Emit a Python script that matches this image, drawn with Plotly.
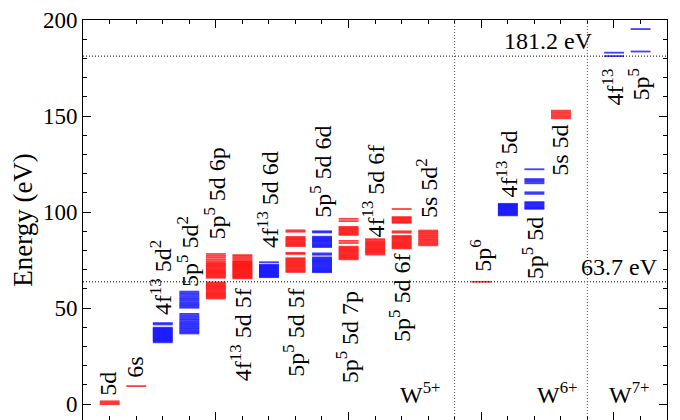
import plotly.graph_objects as go

# ---------------- data (energies in eV) ----------------
CONFIG_LABELS = [
    "5d", "6s", "4f<sup>13</sup> 5d<sup>2</sup>", "5p<sup>5</sup> 5d<sup>2</sup>",
    "5p<sup>5</sup> 5d 6p", "4f<sup>13</sup> 5d 5f", "4f<sup>13</sup> 5d 6d",
    "5p<sup>5</sup> 5d 5f", "5p<sup>5</sup> 5d 6d", "5p<sup>5</sup> 5d 7p",
    "4f<sup>13</sup> 5d 6f", "5p<sup>5</sup> 5d 6f", "5s 5d<sup>2</sup>",
    "5p<sup>6</sup>", "4f<sup>13</sup> 5d", "5p<sup>5</sup> 5d", "5s 5d",
    "4f<sup>13</sup>", "5p<sup>5</sup>",
]
COLUMN_X = [1, 2, 3, 4, 5, 6, 7, 8, 9, 10, 11, 12, 13, 15, 16, 17, 18, 20, 21]
PARITY = ["even", "even", "odd", "odd", "even", "even", "odd", "even", "odd", "even",
          "even", "even", "even", "even", "odd", "odd", "even", "odd", "odd"]

W5_5d = [0.0, 0.7, 1.5]
W5_6s = [9.4]
W5_4f13_5d2 = [42.2, 41.5, 39.8, 39.3, 38.8, 38.3, 37.8, 37.3, 36.8, 36.3, 35.8, 35.3,
               34.8, 34.3, 33.8, 33.3, 32.8, 32.2]
W5_5p5_5d2 = [58.6, 57.8, 57.0, 56.2, 55.3, 54.6, 53.8, 53.0, 52.3, 51.6, 50.9, 50.2,
              47.0, 46.2, 45.4, 44.6, 43.9, 43.1, 42.4, 41.7, 41.0, 40.3, 39.6, 38.9,
              38.2, 37.5, 36.8]
W5_5p5_5d_6p = [78.2, 77.2, 76.3, 75.3, 74.4, 73.6, 73.0, 72.4, 71.8, 71.2, 70.6, 70.0,
                69.4, 68.8, 68.2, 67.6, 67.0, 66.4, 65.8, 63.4, 62.8, 62.2, 61.6, 61.0,
                60.4, 59.8, 59.2, 58.6, 58.0, 57.4, 56.8, 56.2, 55.6, 55.0]
W5_4f13_5d_5f = [77.6, 76.9, 76.1, 75.3, 74.5, 74.0, 73.5, 73.0, 72.5, 72.0, 71.5, 71.0,
                 70.5, 70.0, 69.5, 69.0, 68.5, 68.0, 67.5, 67.0, 66.5, 66.0, 65.5]
W5_4f13_5d_6d = [73.9, 72.6, 72.1, 71.6, 71.1, 70.6, 70.1, 69.6, 69.1, 68.6, 68.1, 67.6,
                 67.1, 66.6, 66.1]
W5_5p5_5d_5f = [90.5, 89.8, 87.1, 86.5, 85.9, 85.3, 84.7, 84.1, 83.5, 82.9, 82.3, 78.8,
                78.2, 76.0, 75.4, 74.8, 74.2, 73.6, 73.0, 72.4, 71.8, 71.2, 70.6, 70.0,
                69.4, 68.8]
W5_5p5_5d_6d = [90.0, 89.4, 87.2, 86.6, 86.0, 85.4, 84.8, 84.2, 83.6, 83.0, 82.4, 81.8,
                78.5, 77.8, 76.4, 75.8, 75.2, 74.6, 74.0, 73.4, 72.8, 72.2, 71.6, 71.0,
                70.4, 69.8, 69.2, 68.7]
W5_5p5_5d_7p = [96.5, 95.3, 92.3, 91.7, 91.1, 90.5, 89.9, 89.3, 88.7, 88.1, 85.0, 83.9,
                82.0, 81.4, 80.8, 80.2, 79.6, 79.0, 78.4, 77.8, 77.2, 76.6, 76.0, 75.4]
W5_4f13_5d_6f = [85.9, 85.2, 84.5, 83.9, 83.3, 82.7, 82.1, 81.5, 80.9, 80.3, 79.7, 79.1,
                 78.5, 77.9]
W5_5p5_5d_6f = [101.6, 97.4, 96.8, 96.2, 95.6, 95.0, 94.4, 90.0, 89.3, 87.6, 87.0, 86.4,
                85.8, 85.2, 84.6, 84.0, 83.4, 82.8, 82.2, 81.6, 81.1]
W5_5s_5d2 = [90.4, 89.7, 89.0, 88.3, 87.6, 86.9, 86.2, 85.5, 84.8, 84.1, 83.4, 82.7]
W6_5p6 = [63.7]
W6_4f13_5d = [104.3, 103.8, 103.3, 102.8, 102.3, 101.8, 101.3, 100.8, 100.3, 99.8, 99.3,
              98.8, 98.3]
W6_5p5_5d = [122.3, 117.2, 116.5, 115.8, 115.0, 110.3, 109.5, 105.2, 104.6, 104.0, 103.4,
             102.8, 102.2, 101.7]
W6_5s_5d = [152.8, 152.0, 151.2, 150.4, 149.6, 148.8]
W7_4f13 = [181.2, 183.0]
W7_5p5 = [183.6, 195.3]

LEVELS = [W5_5d, W5_6s, W5_4f13_5d2, W5_5p5_5d2, W5_5p5_5d_6p, W5_4f13_5d_5f,
          W5_4f13_5d_6d, W5_5p5_5d_5f, W5_5p5_5d_6d, W5_5p5_5d_7p, W5_4f13_5d_6f,
          W5_5p5_5d_6f, W5_5s_5d2, W6_5p6, W6_4f13_5d, W6_5p5_5d, W6_5s_5d,
          W7_4f13, W7_5p5]

IONIZATION_LIMITS = [63.7, 181.2]       # eV
ION_LIMIT_LABELS = ["63.7 eV", "181.2 eV"]
ION_DIVIDERS = [14, 19]
ION_STAGES = ["W<sup>5+</sup>", "W<sup>6+</sup>", "W<sup>7+</sup>"]

# ---------------- layout / style (not data) ----------------
LABEL_PLACEMENT = [
    ("above", 3.6), ("above", 12.4), ("above", 45.4), ("above", 59.8),
    ("above", 84.5), ("below", 61.3), ("above", 80.4), ("below", 61.3),
    ("above", 95.9), ("below", 60.0), ("above", 86.0), ("below", 79.5),
    ("above", 95.9), ("above", 68.0), ("above", 106.7), ("below", 98.5),
    ("above", 118.0), ("below", 176.0), ("below", 176.0),
]
LABEL_DX = -0.04
STAGE_LABEL_X = [13.55, 18.72, 21.43]
STAGE_LABEL_Y = -2.8
LIMIT_LABEL_X = [21.75, 19.3]
HALF_LEFT, HALF_RIGHT = 0.37, 0.38
COLORS = {"even": "rgba(255,0,0,0.75)", "odd": "rgba(0,0,255,0.75)"}
FONT = "Liberation Serif"

fig = go.Figure()
for lab, cx, par, lev in zip(CONFIG_LABELS, COLUMN_X, PARITY, LEVELS):
    xs, ys = [], []
    for e in lev:
        xs += [cx - HALF_LEFT, cx + HALF_RIGHT, None]
        ys += [e, e, None]
    fig.add_trace(go.Scatter(x=xs, y=ys, mode="lines", name=lab, showlegend=False,
                             hoverinfo="skip",
                             line=dict(color=COLORS[par], width=1.8)))

ann = []
for lab, cx, (side, ey) in zip(CONFIG_LABELS, COLUMN_X, LABEL_PLACEMENT):
    ann.append(dict(x=cx + LABEL_DX, y=ey, xref="x", yref="y", text=lab, textangle=-90,
                    showarrow=False, xanchor="center",
                    yanchor="bottom" if side == "above" else "top",
                    font=dict(family=FONT, size=24, color="black")))
for txt, sx in zip(ION_STAGES, STAGE_LABEL_X):
    ann.append(dict(x=sx, y=STAGE_LABEL_Y, xref="x", yref="y", text=txt,
                    showarrow=False, xanchor="right", yanchor="bottom",
                    font=dict(family=FONT, size=24, color="black")))
for txt, lim, lx in zip(ION_LIMIT_LABELS, IONIZATION_LIMITS, LIMIT_LABEL_X):
    ann.append(dict(x=lx, y=lim, xref="x", yref="y", text=txt, showarrow=False,
                    xanchor="right", yanchor="bottom",
                    font=dict(family=FONT, size=24, color="black")))

shapes = []
for lim in IONIZATION_LIMITS:
    shapes.append(dict(type="line", xref="paper", yref="y", x0=0, x1=1, y0=lim, y1=lim,
                       line=dict(color="black", width=1, dash="1px,2px")))
for d in ION_DIVIDERS:
    shapes.append(dict(type="line", xref="x", yref="paper", x0=d, x1=d, y0=0, y1=1,
                       line=dict(color="#555555", width=1, dash="1px,2px")))

# the page body adds an 8 px offset, so the figure is 8 px smaller and margins shifted
fig.update_layout(
    width=672, height=412,
    margin=dict(l=75, r=13, t=8, b=0),
    paper_bgcolor="white", plot_bgcolor="white",
    annotations=ann, shapes=shapes,
    font=dict(family=FONT, color="black"),
    xaxis=dict(range=[0, 22], showline=True, linecolor="black", linewidth=1,
               mirror="ticks", ticks="inside", ticklen=8, tickwidth=1, tickcolor="black",
               tick0=0, dtick=5, showticklabels=False, showgrid=False, zeroline=False,
               minor=dict(dtick=1, tick0=0, ticks="inside", ticklen=4, tickcolor="black",
                          showgrid=False)),
    yaxis=dict(range=[-8.25, 200.01], showline=True, linecolor="black", linewidth=1,
               mirror="ticks", ticks="inside", ticklen=8, tickwidth=1, tickcolor="black",
               tick0=0, dtick=50, showgrid=False, zeroline=False,
               ticklabeloverflow="allow",
               tickfont=dict(family=FONT, size=23, color="black"),
               title=dict(text="Energy (eV)", font=dict(family=FONT, size=27, color="black"),
                          standoff=4),
               minor=dict(dtick=10, tick0=0, ticks="inside", ticklen=4, tickcolor="black",
                          showgrid=False)),
)

fig.write_html("out.html")
